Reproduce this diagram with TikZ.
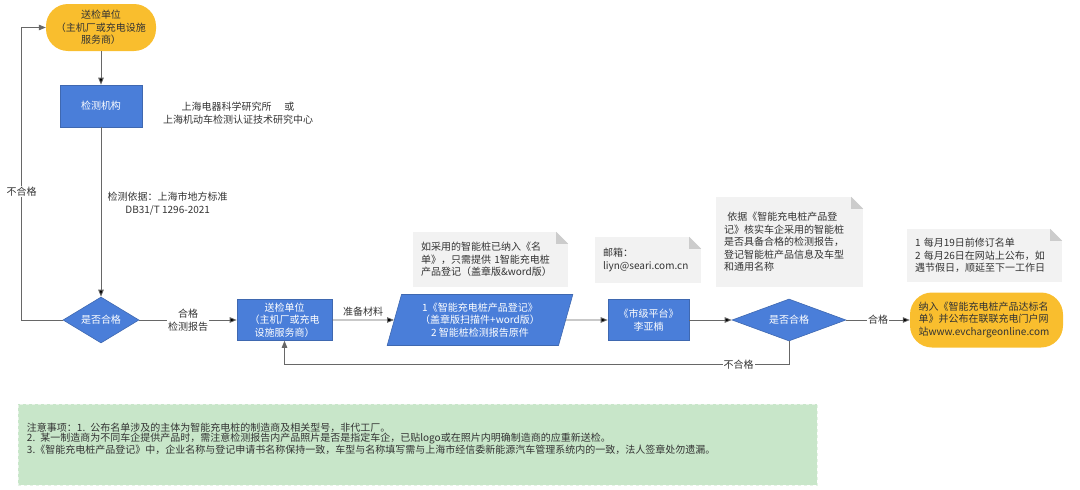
\documentclass[tikz,border=0pt]{standalone}
\usepackage{fontspec}
\setmainfont{Noto Sans CJK SC}
\usetikzlibrary{arrows.meta, positioning, shapes.geometric}

\definecolor{boxblue}{HTML}{4A7ED9}
\definecolor{boxedge}{HTML}{3F68B0}
\definecolor{termyellow}{HTML}{F9BE2E}
\definecolor{memogray}{HTML}{F2F2F2}
\definecolor{foldgray}{HTML}{CCCCCC}
\definecolor{tipgreen}{HTML}{C8E6C9}
\definecolor{tipedge}{HTML}{E6F3E6}
\definecolor{linegray}{HTML}{676767}
\definecolor{inkgray}{HTML}{333333}

\tikzset{
  txt/.style={font=\fontsize{10}{12.5}\selectfont, text=inkgray},
  terminal/.style={txt, rectangle, rounded corners=22pt, fill=termyellow, align=center, inner sep=2pt},
  process/.style={txt, rectangle, fill=boxblue, draw=boxedge, line width=0.6pt, text=white, align=center, inner sep=2pt},
  decision/.style={txt, diamond, aspect=2, fill=boxblue, draw=boxedge, line width=0.6pt, text=white, inner sep=1pt},
  material/.style={txt, trapezium, trapezium left angle=73, trapezium right angle=107, trapezium stretches=true,
    fill=boxblue, draw=boxedge, line width=0.6pt, text=white, align=center, inner sep=1pt},
  memo/.style={txt, rectangle, fill=memogray, align=left, inner xsep=8pt},
  flow/.style={-{Triangle[length=7pt,width=5.5pt]}, draw=linegray, line width=0.8pt},
  tag/.style={txt, fill=white, inner sep=1pt, align=center},
}

\begin{document}
\begin{tikzpicture}[x=1pt, y=-1pt, on grid]
    \useasboundingbox (0,0) rectangle (1080,490);

    % main flow
    \node (dec1) [decision, minimum width=76pt, minimum height=46pt] at (101,320) {是否合格};
    \node (lab) [process, minimum width=82pt, minimum height=42pt, above=214pt of dec1] {检测机构};
    \node (start) [terminal, minimum width=110pt, minimum height=47pt, above=78.5pt of lab] {送检单位\\（主机厂或充电设施\\服务商）};
    \node (sender) [process, minimum width=95pt, minimum height=41pt, right=183.5pt of dec1] {送检单位\\（主机厂或充电\\设施服务商）};
    \node (mat) [material, minimum width=186pt, minimum height=51pt, right=195.5pt of sender] {1《智能充电桩产品登记》\\（盖章版扫描件+word版）\\2 智能桩检测报告原件};
    \node (city) [process, minimum width=81pt, minimum height=41pt, right=168.5pt of mat] {《市级平台》\\李亚楠};
    \node (dec2) [decision, minimum width=114pt, minimum height=42pt, right=140.5pt of city] {是否合格};
    \node (done) [terminal, minimum width=153pt, minimum height=55pt, text width=136pt, align=left, right=197.5pt of dec2] {纳入《智能充电桩产品达标名\\单》并公布在联联充电门户网\\站www.evchargeonline.com};

    % notes
    \node (org) [txt, align=center] at (238,113) {上海电器科学研究所\hspace{1.3em}或\\上海机动车检测认证技术研究中心};
    \node (memoA) [memo, minimum width=155pt, minimum height=55pt, text width=139pt] at (490.5,259.5) {如采用的智能桩已纳入《名\\单》，只需提供 1智能充电桩\\产品登记（盖章版\&word版）};
    \node (memoB) [memo, minimum width=106pt, minimum height=46pt, text width=90pt] at (648,260) {邮箱：\\liyn@seari.com.cn};
    \node (memoC) [memo, minimum width=147pt, minimum height=90pt, text width=131pt] at (789.5,242) {\ 依据《智能充电桩产品登\\记》核实车企采用的智能桩\\是否具备合格的检测报告，\\登记智能桩产品信息及车型\\和通用名称};
    \node (memoD) [memo, minimum width=155pt, minimum height=53pt, text width=139pt] at (984.5,255.5) {1 每月19日前修订名单\\2 每月26日在网站上公布，如\\遇节假日，顺延至下一工作日};
    \foreach \m in {memoA, memoB, memoC, memoD} {
        \fill [white] (\m.north east) -- ++(-12,0) -- ++(12,12) -- cycle;
        \fill [foldgray] (\m.north east) ++(-12,0) -- ++(0,12) -- ++(12,0) -- cycle;
    }

    \node (tips) [txt, font=\fontsize{10}{10}\selectfont, fill=tipgreen, draw=tipedge, dashed, minimum width=799pt, minimum height=81pt,
        text width=781pt, inner xsep=9pt, text depth=34pt, align=left] at (417.5,444.5)
        {注意事项：1. 公布名单涉及的主体为智能充电桩的制造商及相关型号，非代工厂。\\2. 某一制造商为不同车企提供产品时，需注意检测报告内产品照片是否是指定车企，已贴logo或在照片内明确制造商的应重新送检。\\3.《智能充电桩产品登记》中，企业名称与登记申请书名称保持一致，车型与名称填写需与上海市经信委新能源汽车管理系统内的一致，法人签章处勿遗漏。};

    % connectors
    \path [flow] (start) edge (lab);
    \path [flow] (lab) edge node [txt, pos=0.45, right=3pt, align=center] {检测依据：上海市地方标准\\DB31/T 1296-2021} (dec1);
    \path [flow] (dec1) edge node [tag] {合格\\检测报告} (sender);
    \path [flow] (sender) edge node [txt, above] {准备材料} (mat);
    \path [flow] (mat) edge (city);
    \path [flow] (city) edge (dec2);
    \path [flow] (dec2) edge node [tag] {合格} (done);
    \draw [flow] (dec1.west) -- ++(-41,0) |- node [tag, pos=0.22] {不合格} (start.west);
    \draw [flow] (dec2.south) -- ++(0,23) -| node [tag, pos=0.05] {不合格} (sender.south);
\end{tikzpicture}
\end{document}
